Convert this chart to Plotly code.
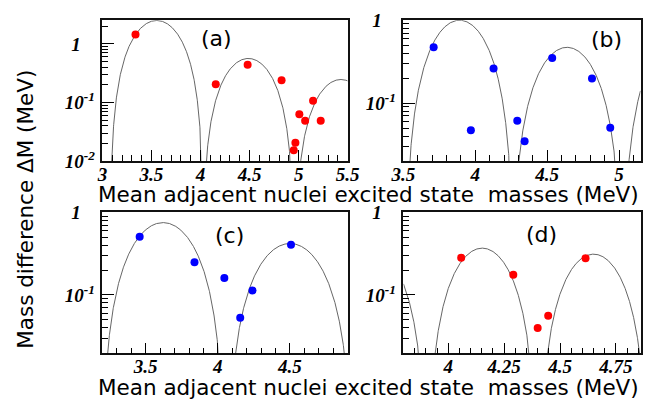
import numpy as np
import plotly.graph_objects as go

W, H = 654, 410

# ---- measured points: mean excited-state mass (MeV) vs mass difference (MeV)
a_x = [3.337, 4.155, 4.480, 4.826, 5.147, 5.007, 5.066, 5.225, 4.967, 4.950]
a_dm = [1.452, 0.2046, 0.4406, 0.2399, 0.1069, 0.0628, 0.0489, 0.0489, 0.0205, 0.0154]

b_x = [3.710, 3.969, 4.127, 4.292, 4.343, 4.535, 4.812, 4.939]
b_dm = [0.471, 0.0470, 0.262, 0.0612, 0.0346, 0.349, 0.198, 0.0505]

c_x = [3.458, 3.838, 4.045, 4.240, 4.155, 4.507]
c_dm = [0.506, 0.249, 0.160, 0.113, 0.0528, 0.406]

d_x = [4.058, 4.291, 4.400, 4.447, 4.614]
d_dm = [0.283, 0.176, 0.0398, 0.0558, 0.279]

# ---- fitted sin^2 lobes: centre, peak height, half period
a_centres = [3.553, 4.487, 5.430]
a_peaks = [2.51, 0.565, 0.247]
a_half = [0.478, 0.468, 0.470]

b_centres = [3.890, 4.638, 5.404]
b_peaks = [1.0, 0.471, 0.573]
b_half = [0.380, 0.386, 0.380]

c_centres = [3.620, 4.500]
c_peaks = [0.753, 0.420]
c_half = [0.429, 0.438]

d_centres = [3.658, 4.152, 4.650]
d_peaks = [0.355, 0.369, 0.312]
d_half = [0.247, 0.247, 0.2455]

# ---- tick labels
a_xticks = [3.0, 3.5, 4.0, 4.5, 5.0, 5.5]
a_xlabels = ["3", "3.5", "4", "4.5", "5", "5.5"]
b_xticks = [3.5, 4.0, 4.5, 5.0]
b_xlabels = ["3.5", "4", "4.5", "5"]
c_xticks = [3.5, 4.0, 4.5]
c_xlabels = ["3.5", "4", "4.5"]
d_xticks = [4.0, 4.25, 4.5, 4.75]
d_xlabels = ["4", "4.25", "4.5", "4.75"]

a_yticks = [0.01, 0.1, 1.0]
a_ylabels = ["10<sup>-2</sup>", "10<sup>-1</sup>", "1\u00a0\u00a0\u00a0"]
bcd_yticks = [0.1, 1.0]
bcd_ylabels = ["10<sup>-1</sup>", "1\u00a0\u00a0\u00a0"]

panels = [
    dict(x=a_x, y=a_dm, c=a_centres, p=a_peaks, h=a_half, color="#ff0000",
         xr=[3.0, 5.5], yr=[-2.0, 0.405], label="(a)", lab_xy=(212, 30),
         xvals=a_xticks, xtext=a_xlabels, xminor=0.1,
         yvals=a_yticks, ytext=a_ylabels),
    dict(x=b_x, y=b_dm, c=b_centres, p=b_peaks, h=b_half, color="#0000ff",
         xr=[3.5, 5.15], yr=[-1.70, 0.0005], label="(b)", lab_xy=(617, 31),
         xvals=b_xticks, xtext=b_xlabels, xminor=0.1,
         yvals=bcd_yticks, ytext=bcd_ylabels),
    dict(x=c_x, y=c_dm, c=c_centres, p=c_peaks, h=c_half, color="#0000ff",
         xr=[3.2, 4.9], yr=[-1.71, 0.0005], label="(c)", lab_xy=(225, 238),
         xvals=c_xticks, xtext=c_xlabels, xminor=0.1,
         yvals=bcd_yticks, ytext=bcd_ylabels),
    dict(x=d_x, y=d_dm, c=d_centres, p=d_peaks, h=d_half, color="#ff0000",
         xr=[3.8, 4.86], yr=[-1.71, 0.0005], label="(d)", lab_xy=(549, 237),
         xvals=d_xticks, xtext=d_xlabels, xminor=0.05,
         yvals=bcd_yticks, ytext=bcd_ylabels),
]

# subplot frames in pixels: (left, right, top, bottom)
frames = [(93, 348, 10.7, 159.3), (406, 652.5, 10.7, 159.3),
          (93, 348, 213.3, 362.0), (406, 652.5, 213.3, 362.0)]


def fx(px):
    return px / W


def fy(py):
    return 1 - py / H


def bi(s):
    return "<b><i>" + s + "</i></b>"


def lobes(centres, peaks, half, xr):
    xs, ys = [], []
    for c, p, h in zip(centres, peaks, half):
        t = np.linspace(c - h, c + h, 801)[1:-1]
        t = t[(t >= xr[0]) & (t <= xr[1])]
        if t.size == 0:
            continue
        v = p * np.cos(np.pi * (t - c) / (2 * h)) ** 2
        xs += list(t) + [None]
        ys += list(v) + [None]
    return xs, ys


tick_font = dict(family="Liberation Serif", size=19, color="black")
fig = go.Figure()
layout = dict(width=W, height=H, margin=dict(l=0, r=0, t=0, b=0),
              paper_bgcolor="white", plot_bgcolor="white", showlegend=False)
annotations = []

yminor = [k * 10.0 ** e for e in range(-3, 1) for k in range(2, 10)]

for i, (pan, fr) in enumerate(zip(panels, frames), start=1):
    sx = "" if i == 1 else str(i)
    xa, ya = "x" + sx, "y" + sx
    cx, cy = lobes(pan["c"], pan["p"], pan["h"], pan["xr"])
    fig.add_trace(go.Scatter(x=cx, y=cy, mode="lines", xaxis=xa, yaxis=ya,
                             line=dict(color="#555555", width=0.9),
                             hoverinfo="skip"))
    fig.add_trace(go.Scatter(x=pan["x"], y=pan["y"], mode="markers",
                             xaxis=xa, yaxis=ya,
                             marker=dict(color=pan["color"], size=8,
                                         line=dict(width=0))))
    l, r, t, b = fr
    layout["xaxis" + sx] = dict(
        domain=[fx(l), fx(r)], anchor=ya, range=pan["xr"],
        showgrid=False, zeroline=False, showline=True, linecolor="#111",
        linewidth=1.5, mirror=True, ticks="inside", ticklen=11,
        tickwidth=1.2, tickcolor="black", tickmode="array",
        tickvals=pan["xvals"], ticktext=[bi(s) for s in pan["xtext"]],
        tickfont=tick_font, ticklabelstandoff=-5,
        minor=dict(ticks="inside", ticklen=6, tickwidth=1, tickcolor="black",
                   tickmode="linear", tick0=pan["xr"][0], dtick=pan["xminor"],
                   showgrid=False))
    layout["yaxis" + sx] = dict(
        domain=[fy(b), fy(t)], anchor=xa, type="log", range=pan["yr"],
        showgrid=False, zeroline=False, showline=True, linecolor="#111",
        linewidth=1.5, mirror=True, ticks="inside", ticklen=12,
        tickwidth=1.2, tickcolor="black", tickmode="array",
        tickvals=pan["yvals"], ticktext=[bi(s) for s in pan["ytext"]],
        tickfont=tick_font, ticklabelstandoff=2,
        minor=dict(ticks="inside", ticklen=6, tickwidth=1, tickcolor="black",
                   tickmode="array", tickvals=yminor, showgrid=False))
    annotations.append(dict(text=pan["label"], x=fx(pan["lab_xy"][0]),
                            y=fy(pan["lab_xy"][1]), xref="paper", yref="paper",
                            showarrow=False, xanchor="center", yanchor="middle",
                            font=dict(family="DejaVu Sans", size=22,
                                      color="black")))

title_font = dict(family="DejaVu Sans", size=21.5, color="black")
x_title = "Mean adjacent nuclei excited state \u00a0masses (MeV)"
for py in (194, 398):
    annotations.append(dict(text=x_title, x=fx(370), y=fy(py), xref="paper",
                            yref="paper", showarrow=False, xanchor="center",
                            yanchor="middle", font=title_font))
annotations.append(dict(text="Mass difference \u0394M (MeV)", x=fx(13),
                        y=fy(210), xref="paper", yref="paper",
                        showarrow=False, textangle=-90, xanchor="center",
                        yanchor="middle", font=title_font))

layout["annotations"] = annotations
fig.update_layout(**layout)
fig.write_html("out.html")
